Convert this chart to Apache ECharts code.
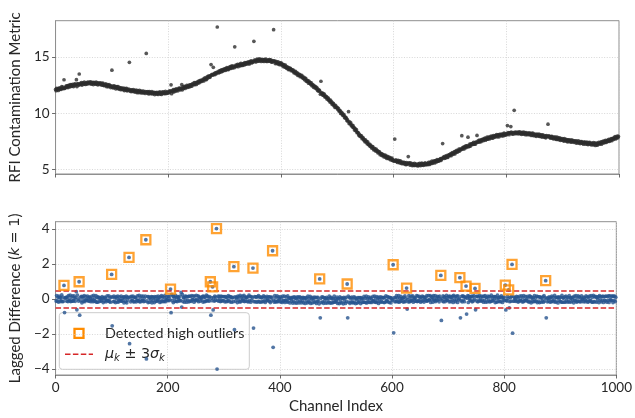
<!DOCTYPE html>
<html>
<head>
<meta charset="utf-8">
<script src="https://cdn.jsdelivr.net/npm/echarts@6/dist/echarts.min.js"></script>
<style>
html, body { margin: 0; padding: 0; background: #ffffff; }
#chart { width: 635px; height: 418px; }
</style>
</head>
<body>
<div id="chart"></div>
<script>
// RFI contamination metric for channels 0..999 (20 channels per row)
const metricValues = [
  12.12,12.01,12.21,12.10,12.20,12.03,12.19,12.27,12.13,12.22,12.13,12.37,12.22,12.33,12.20,12.98,12.21,12.26,12.34,12.44,
  12.32,12.43,12.29,12.49,12.44,12.34,12.56,12.42,12.52,12.40,12.58,12.47,12.38,12.56,12.61,12.48,12.57,12.99,12.38,12.61,
  12.61,12.50,13.49,12.57,12.67,12.57,12.72,12.51,12.65,12.71,12.58,12.77,12.62,12.56,12.71,12.68,12.60,12.77,12.67,12.75,
  12.63,12.75,12.80,12.65,12.58,12.74,12.70,12.55,12.76,12.65,12.70,12.58,12.78,12.60,12.71,12.53,12.65,12.71,12.57,12.65,
  12.70,12.58,12.50,12.64,12.69,12.49,12.56,12.45,12.56,12.61,12.45,12.37,12.55,12.48,12.37,12.55,12.41,12.47,12.29,12.42,
  13.83,12.30,12.41,12.26,12.43,12.30,12.38,12.18,12.32,12.37,12.21,12.37,12.20,12.15,12.28,12.22,12.10,12.26,12.14,12.20,
  12.11,12.23,12.02,12.14,12.19,12.05,12.21,12.00,12.11,12.05,12.15,14.53,11.98,12.09,11.93,12.08,12.02,11.94,12.10,11.94,
  12.04,11.89,12.00,12.07,11.91,11.83,12.01,11.95,11.84,12.05,11.89,11.96,11.81,11.98,11.89,11.82,11.98,11.84,11.89,11.76,
  11.93,15.32,11.90,11.79,11.93,11.73,11.87,11.93,11.75,11.84,11.79,11.93,11.72,11.85,11.78,11.87,11.67,11.81,11.85,11.72,
  11.86,11.73,11.68,11.84,11.80,11.90,11.71,11.83,11.68,11.88,11.79,11.91,11.76,11.86,11.74,11.95,11.80,11.77,11.89,11.87,
  11.80,11.95,11.86,12.00,11.96,12.53,11.75,12.02,11.93,12.10,11.90,12.05,12.10,11.97,12.18,12.05,12.14,12.00,12.14,12.23,
  12.19,12.08,12.25,12.17,12.55,12.09,12.35,12.21,12.30,12.39,12.21,12.38,12.33,12.48,12.30,12.43,12.36,12.51,12.35,12.52,
  12.41,12.55,12.42,12.62,12.58,12.55,12.72,12.54,12.71,12.66,12.57,12.78,12.76,12.69,12.87,12.72,12.86,12.93,12.81,12.86,
  12.96,12.90,13.05,12.88,13.05,13.15,13.00,13.11,13.00,13.23,13.13,13.30,13.21,13.31,13.20,13.34,14.33,13.41,13.47,13.38,
  14.08,13.46,13.55,13.44,13.60,13.52,13.63,17.66,13.66,13.58,13.75,13.63,13.78,13.82,13.68,13.85,13.74,13.88,13.79,13.93,
  13.84,13.98,13.82,13.96,14.05,13.90,13.99,13.88,14.08,14.00,14.14,13.98,14.12,14.21,14.03,14.11,14.20,14.05,15.90,14.15,
  14.27,14.16,14.25,14.34,14.14,14.30,14.25,14.38,14.22,14.43,14.27,14.35,14.25,14.42,14.41,14.30,14.51,14.37,14.48,14.37,
  14.48,14.55,14.41,14.54,14.38,14.60,14.51,14.65,14.47,14.61,14.53,14.62,16.39,14.73,14.58,14.72,14.57,14.70,14.81,14.63,
  14.77,14.64,14.83,14.68,14.78,14.60,14.73,14.80,14.64,14.74,14.60,14.78,14.68,14.81,14.62,14.70,14.60,14.75,14.71,14.63,
  14.76,14.63,14.75,14.55,14.65,14.55,14.66,17.42,14.66,14.60,14.42,14.61,14.47,14.55,14.39,14.57,14.42,14.33,14.45,14.47,
  14.32,14.45,14.29,14.34,14.15,14.32,14.22,14.11,14.27,14.08,14.00,14.12,14.05,13.88,14.06,13.90,13.96,14.00,13.78,13.86,
  13.87,13.75,13.84,13.61,13.71,13.59,13.72,13.50,13.56,13.59,13.36,13.49,13.38,13.47,13.25,13.37,13.27,13.37,13.16,13.21,
  13.10,13.20,12.99,13.07,13.10,12.85,12.93,12.83,12.90,12.68,12.85,12.69,12.72,12.56,12.71,12.46,12.54,12.53,12.31,12.40,
  12.41,12.24,12.35,12.19,12.27,12.02,12.12,11.98,12.07,11.97,11.70,12.85,11.78,11.82,11.62,11.75,11.59,11.70,11.46,11.53,
  11.43,11.48,11.25,11.35,11.36,11.14,11.17,11.01,11.17,10.96,11.02,10.79,10.88,10.89,10.68,10.71,10.53,10.70,10.52,10.56,
  10.49,10.34,10.45,10.20,10.24,10.25,9.99,10.11,9.96,10.03,9.81,9.83,9.88,9.61,9.70,9.57,9.61,9.36,9.45,9.30,
  10.16,9.09,9.25,9.07,9.15,8.90,8.96,8.80,8.91,8.72,8.73,8.51,8.63,8.46,8.55,8.29,8.32,8.30,8.07,8.15,
  7.97,8.05,7.93,8.01,7.75,7.83,7.83,7.64,7.66,7.49,7.64,7.46,7.51,7.31,7.47,7.25,7.27,7.13,7.25,7.07,
  7.11,6.92,7.02,7.04,6.85,6.75,6.90,6.81,6.67,6.83,6.65,6.69,6.50,6.64,6.52,6.58,6.33,6.44,6.44,6.27,
  6.39,6.25,6.31,6.13,6.23,6.30,6.10,6.18,6.00,6.18,6.07,5.99,6.13,5.97,6.06,5.87,5.97,6.04,5.82,5.88,
  5.80,5.76,7.72,5.79,5.87,5.72,5.79,5.64,5.83,5.70,5.76,5.60,5.79,5.61,5.65,5.53,5.68,5.57,5.62,5.66,
  5.49,5.59,5.45,5.63,5.49,5.54,6.17,5.60,5.57,5.41,5.60,5.44,5.50,5.37,5.54,5.46,5.38,5.56,5.38,5.47,
  5.50,5.39,5.45,5.33,5.53,5.39,5.56,5.44,5.37,5.52,5.59,5.41,5.51,5.39,5.55,5.47,5.60,5.43,5.52,5.47,
  5.57,5.46,5.65,5.54,5.47,5.67,5.63,5.57,5.76,5.57,5.71,5.68,5.78,5.60,5.79,5.78,5.69,5.89,5.75,5.82,
  5.75,5.90,5.85,5.98,5.82,5.98,5.97,7.32,6.10,6.12,6.01,6.19,6.03,6.15,6.26,6.12,6.09,6.30,6.23,6.33,
  6.26,6.41,6.25,6.41,6.51,6.36,6.47,6.43,6.60,6.41,6.62,6.57,6.71,6.56,6.70,6.66,6.84,6.65,6.82,6.78,
  6.80,8.02,6.95,6.85,7.00,6.84,7.02,6.96,7.11,6.96,7.08,7.15,7.89,7.03,7.08,7.27,7.08,7.25,7.30,7.23,
  7.35,7.25,7.42,7.26,7.38,7.27,7.46,7.43,8.04,7.43,7.57,7.46,7.63,7.47,7.59,7.48,7.68,7.60,7.69,7.57,
  7.74,7.67,7.80,7.62,7.78,7.70,7.89,7.71,7.81,7.89,7.73,7.90,7.84,7.98,7.82,7.94,7.80,8.02,7.91,7.99,
  7.90,8.04,7.98,8.12,7.92,8.05,8.10,7.92,8.14,8.02,8.08,8.17,8.02,8.13,7.99,8.17,8.24,8.05,8.15,8.09,
  8.20,8.12,8.92,8.30,8.22,8.11,8.26,8.30,8.83,8.33,8.18,8.27,8.15,8.29,10.27,8.32,8.20,8.33,8.22,8.30,
  8.31,8.18,8.33,8.23,8.36,8.19,8.26,8.14,8.31,8.24,8.16,8.34,8.18,8.26,8.10,8.29,8.18,8.11,8.25,8.21,
  8.12,8.27,8.14,8.21,8.04,8.22,8.09,8.24,8.03,8.13,8.16,8.02,8.11,7.96,8.16,8.05,8.12,7.99,8.15,7.95,
  8.09,7.97,8.10,7.90,8.02,8.10,7.92,7.98,7.88,8.01,7.83,8.02,7.91,7.99,9.04,7.97,8.01,7.85,7.91,7.80,
  7.93,7.97,7.79,7.88,7.73,7.89,7.79,7.89,7.74,7.68,7.89,7.72,7.82,7.66,7.74,7.83,7.61,7.73,7.65,7.75,
  7.62,7.72,7.54,7.75,7.57,7.64,7.70,7.52,7.64,7.47,7.64,7.56,7.66,7.49,7.58,7.45,7.65,7.47,7.53,7.59,
  7.43,7.53,7.47,7.57,7.36,7.53,7.47,7.37,7.56,7.39,7.46,7.32,7.50,7.38,7.50,7.34,7.41,7.26,7.44,7.42,
  7.42,7.27,7.38,7.45,7.29,7.23,7.41,7.31,7.43,7.25,7.35,7.21,7.37,7.31,7.21,7.41,7.24,7.33,7.15,7.36,
  7.21,7.35,7.19,7.34,7.43,7.26,7.37,7.33,7.47,7.27,7.47,7.41,7.53,7.37,7.51,7.44,7.61,7.42,7.55,7.48,
  7.63,7.53,7.70,7.52,7.66,7.59,7.77,7.58,7.76,7.74,7.67,7.84,7.77,7.93,7.73,7.89,7.82,7.98,7.84,7.95
];

// tick positions
const metricTicks = [5, 10, 15];
const diffTicks = [-4, -2, 0, 2, 4];
const channelTickStep = 200;

// lag and the centre / spread used for the detection band
const lagK = 1;
const diffMean = 0.005;
const diffSigma = 0.162;

// lagged difference d[i] = x[i] - x[i-k], plotted at channel i
const laggedDiff = [];
for (let i = lagK; i < metricValues.length; i++) {
  laggedDiff.push([i, Math.round((metricValues[i] - metricValues[i - lagK]) * 100) / 100]);
}
const upperBand = diffMean + 3 * diffSigma;
const lowerBand = diffMean - 3 * diffSigma;
const highOutliers = laggedDiff.filter(p => p[1] > upperBand);

const FONT = 'Lato, "DejaVu Sans", sans-serif';
const MATH = '"DejaVu Sans", sans-serif';
const TXT = '#262626';
const FRAME = '#8f8f8f';
const TICK = '#5a5a5a';
const plainNumber = v => String(v).replace('-', '\u2212');

const gridLines = { show: true, lineStyle: { color: '#cdcdcd', type: [1, 1.6], width: 0.8 } };

function xAxisFor(gridIndex, withLabels) {
  const ax = {
    gridIndex, type: 'value', min: 0, max: 1000, interval: channelTickStep,
    axisLine: { show: true, onZero: false, lineStyle: { color: FRAME, width: 1 } },
    axisTick: { show: true, inside: false, length: 3.5, lineStyle: { color: TICK, width: 0.9 } },
    axisLabel: { show: withLabels, fontFamily: FONT, fontSize: 13.5, color: TXT, margin: 6, formatter: plainNumber },
    splitLine: gridLines
  };
  if (withLabels) {
    ax.name = 'Channel Index';
    ax.nameLocation = 'middle';
    ax.nameGap = 24;
    ax.nameTextStyle = { fontFamily: FONT, fontSize: 15, color: TXT };
  }
  return ax;
}

function yAxisFor(gridIndex, min, max, ticks, name, rich) {
  return {
    gridIndex, type: 'value', min, max,
    axisLine: { show: true, onZero: false, lineStyle: { color: FRAME, width: 1 } },
    axisTick: { show: true, length: 3.5, customValues: ticks, lineStyle: { color: TICK, width: 0.9 } },
    axisLabel: { customValues: ticks, fontFamily: FONT, fontSize: 13.5, color: TXT, margin: 6, formatter: plainNumber },
    splitLine: gridLines,
    name, nameLocation: 'middle', nameGap: 29, nameRotate: 90,
    nameTextStyle: { fontFamily: FONT, fontSize: 15, color: TXT, rich }
  };
}

const chart = echarts.init(document.getElementById('chart'), null, { renderer: 'canvas' });

const option = {
  animation: false,
  backgroundColor: '#ffffff',
  grid: [
    { left: 51.3, right: 16, top: 20.7, height: 153.3, show: true, borderColor: FRAME, borderWidth: 1 },
    { left: 51.3, right: 16, top: 221.7, height: 153.3, show: true, borderColor: FRAME, borderWidth: 1 }
  ],
  xAxis: [xAxisFor(0, false), xAxisFor(1, true)],
  yAxis: [
    yAxisFor(0, 4.62, 18.22, metricTicks, 'RFI Contamination Metric', {}),
    yAxisFor(1, -4.34, 4.42, diffTicks, 'Lagged Difference ({m|k} {e|= 1})', {
      m: { fontFamily: MATH, fontStyle: 'italic', fontSize: 14.5, color: TXT },
      e: { fontFamily: MATH, fontSize: 14.5, color: TXT }
    })
  ],
  series: [
    {
      name: 'metric', type: 'scatter', xAxisIndex: 0, yAxisIndex: 0,
      data: metricValues.map((v, i) => [i, v]),
      symbolSize: 3.7, itemStyle: { color: '#2d2d2d' }, silent: true
    },
    {
      name: 'lagged difference', type: 'scatter', xAxisIndex: 1, yAxisIndex: 1,
      data: laggedDiff,
      symbolSize: 3.8, itemStyle: { color: '#27548f' }, silent: true,
      markLine: {
        silent: true, symbol: 'none', label: { show: false },
        lineStyle: { color: '#d62728', type: [5.5, 2.4], width: 1.6 },
        data: [{ yAxis: upperBand }, { yAxis: lowerBand }]
      }
    },
    {
      name: 'Detected high outliers', type: 'scatter', xAxisIndex: 1, yAxisIndex: 1,
      data: highOutliers, symbol: 'rect', symbolSize: 9, z: 5, silent: true,
      itemStyle: { color: 'rgba(0,0,0,0)', borderColor: '#ff8c00', borderWidth: 2.3 }
    }
  ],
  graphic: [
    {
      type: 'group', x: 59.3, y: 312.7, z: 100,
      children: [
        { type: 'rect', shape: { x: 0, y: 0, width: 190, height: 56.6, r: 3 },
          style: { fill: 'rgba(255,255,255,0.8)', stroke: '#cccccc', lineWidth: 1 } },
        { type: 'rect', shape: { x: 15.2, y: 16.1, width: 9, height: 9 },
          style: { fill: 'none', stroke: '#ff8c00', lineWidth: 2.3 } },
        { type: 'line', shape: { x1: 5.7, y1: 41.6, x2: 33.7, y2: 41.6 },
          style: { stroke: '#d62728', lineWidth: 1.6, lineDash: [5.5, 2.4] } },
        { type: 'text', x: 45.7, y: 20.6,
          style: { text: 'Detected high outliers', fontFamily: FONT, fontSize: 14.3, fill: TXT, verticalAlign: 'middle' } },
        { type: 'text', x: 45.7, y: 41.6,
          style: {
            text: '{g|\u03bc}{s|k}{n| \u00b1 3}{g|\u03c3}{s|k}', verticalAlign: 'middle',
            rich: {
              g: { fontFamily: MATH, fontStyle: 'italic', fontSize: 14.3, lineHeight: 18, verticalAlign: 'middle', fill: TXT },
              n: { fontFamily: MATH, fontSize: 14.3, lineHeight: 18, verticalAlign: 'middle', fill: TXT },
              s: { fontFamily: MATH, fontStyle: 'italic', fontSize: 10, lineHeight: 10, verticalAlign: 'bottom', fill: TXT }
            }
          } }
      ]
    }
  ]
};

chart.setOption(option);
</script>
</body>
</html>
